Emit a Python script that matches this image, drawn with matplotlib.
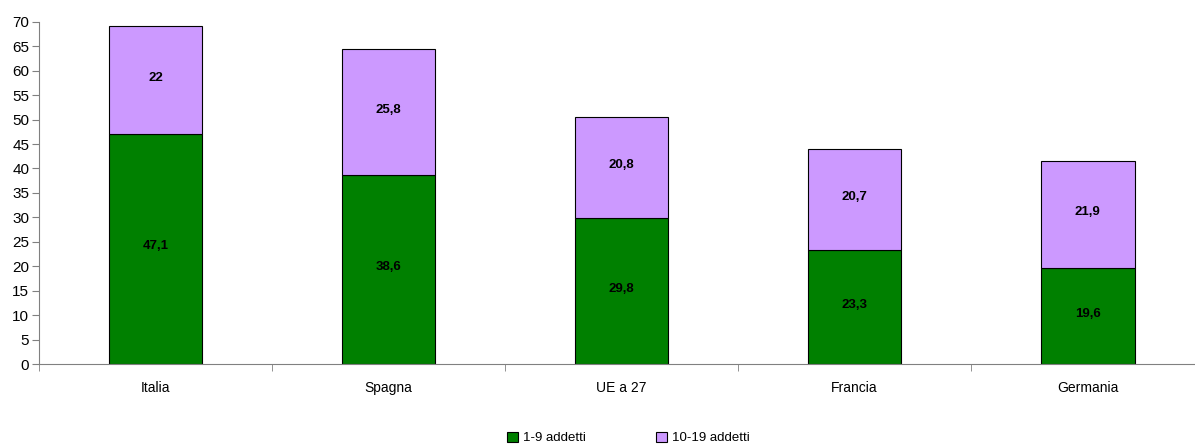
import matplotlib
matplotlib.use('Agg')
import matplotlib.pyplot as plt
import numpy as np

# --- Data ---
categories = ['Italia', 'Spagna', 'UE a 27', 'Francia', 'Germania']
small = [47.1, 38.6, 29.8, 23.3, 19.6]      # 1-9 addetti
medium = [22, 25.8, 20.8, 20.7, 21.9]       # 10-19 addetti
labels_small = ['47,1', '38,6', '29,8', '23,3', '19,6']
labels_medium = ['22', '25,8', '20,8', '20,7', '21,9']

plt.rcParams['font.family'] = ['Liberation Sans Narrow', 'Liberation Sans', 'DejaVu Sans']

fig = plt.figure(figsize=(11.95, 4.45), dpi=100)
# plot area runs slightly past the right edge, as in the original
ax = fig.add_axes([0.0326, 0.182, 0.975, 0.769])

x = np.arange(len(categories))
w = 0.403
ax.bar(x, small, w, color='#008000', edgecolor='black', linewidth=0.8, label='1-9 addetti')
ax.bar(x, medium, w, bottom=small, color='#CC99FF', edgecolor='black', linewidth=0.8, label='10-19 addetti')

for i in range(len(categories)):
    ax.text(x[i], small[i] / 2 + 0.5, labels_small[i], ha='center', va='center', fontsize=9.5, fontweight='bold')
    ax.text(x[i], small[i] + medium[i] / 2 + 0.5, labels_medium[i], ha='center', va='center', fontsize=9.5, fontweight='bold')

ax.set_xlim(-0.5, len(categories) - 0.5)
ax.set_ylim(0, 70)
ax.set_yticks(range(0, 71, 5))
ax.set_xticks(x)
ax.set_xticklabels(categories, fontsize=10)
ax.tick_params(axis='x', length=0, pad=12)
ax.set_xticks(np.arange(-0.5, len(categories)), minor=True)
ax.tick_params(axis='x', which='minor', length=5, color='#808080')
ax.tick_params(axis='y', labelsize=11, length=5, color='#808080', pad=2)

for s in ['top', 'right']:
    ax.spines[s].set_visible(False)
ax.spines['left'].set_color('#808080')
ax.spines['bottom'].set_color('#808080')

fig.legend(loc='lower center', bbox_to_anchor=(0.526, -0.025), ncol=2, frameon=False,
           fontsize=9.5, handlelength=0.8, handleheight=0.8, columnspacing=5.3, handletextpad=0.4)

fig.savefig('out.png', dpi=100)
